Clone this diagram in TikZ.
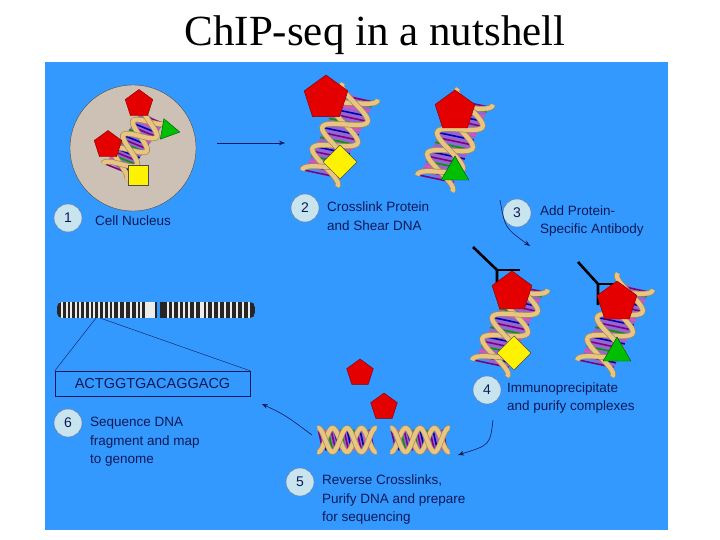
\documentclass[tikz,border=0pt]{standalone}
\usepackage{fontspec}
\setmainfont{Liberation Sans}
\newfontfamily\titlefont{Liberation Serif}
\usetikzlibrary{shapes.geometric,arrows.meta}
\definecolor{panel}{RGB}{51,153,255}
\definecolor{ink}{RGB}{15,25,85}
\definecolor{ribbon}{RGB}{232,198,130}
\definecolor{bubble}{RGB}{200,228,238}
\definecolor{nuc}{RGB}{205,192,180}
\tikzset{
 lbl/.style={font=\fontsize{13.5}{18.5}\selectfont, text=ink, align=left, anchor=west, inner sep=0pt},
 num/.style={circle, fill=bubble, draw=ink!60, minimum size=28pt, inner sep=0pt, font=\fontsize{14}{14}\selectfont, text=ink},
 pent/.style={regular polygon, regular polygon sides=5, fill=red!90!black, draw=red!50!black, inner sep=0pt},
 tri/.style={regular polygon, regular polygon sides=3, fill=green!75!black, draw=green!30!black, inner sep=0pt},
 sq/.style={rectangle, fill=yellow, draw=black!70, inner sep=0pt},
 arr/.style={draw=ink, -{Stealth[length=6pt]}, line width=0.6pt},
 dna/.pic={
  \fill[blue!40!violet!60] (-32,-13) rectangle (32,13);
  \foreach \i/\c in {-33/violet,-29/blue!70!black,-25/magenta!70,-21/green!60!black,-17/violet,-13/blue!70!black,-9/magenta!70,-5/green!60!black,-1/violet,3/blue!70!black,7/magenta!70,11/green!60!black,15/violet,19/blue!70!black,23/magenta!70,27/green!60!black,31/violet}
   {\draw[\c, line width=1.6pt] (\i-3,-13) -- (\i+3,13);}
  \foreach \ph in {90,-90}{
  \draw[ribbon!70!black, line width=5.6pt] plot[domain=-37:37,samples=50] (\x,{15*sin(\x*10+\ph)});
  \draw[ribbon, line width=4.2pt] plot[domain=-37:37,samples=50] (\x,{15*sin(\x*10+\ph)});}
 }
}
\begin{document}
\begin{tikzpicture}[x=1pt,y=-1pt]
\useasboundingbox (0,0) rectangle (720,540);
\fill[white] (0,0) rectangle (720,540);
\node[font=\titlefont\fontsize{43}{43}\selectfont] (title) at (375,35) {ChIP-seq in a nutshell};
\fill[panel] (45,62) rectangle (668,530);

% step 1
\node[circle, fill=nuc, draw=black!70, minimum size=126pt] (nucleus) at (133,148) {};
\pic[scale=0.95, rotate=55] at (135,143) {dna};
\node[pent, minimum size=29pt] (p1a) at (139,104) {};
\node[pent, minimum size=29pt] (p1b) at (108,145) {};
\node[tri, minimum size=24pt, rotate=20] (t1) at (168,130) {};
\node[sq, minimum size=20pt] (s1) at (138,175) {};
\coordinate (a1s) at (217,143);
\coordinate (a1e) at (285,143);
\draw[arr] (a1s) -- (a1e);
\node[num] (n1) at (68,218) {1};
\node[lbl] (l1) at (95,221) {Cell Nucleus};

% step 2
\pic[scale=1.3, rotate=65] at (340,135) {dna};
\pic[scale=1.3, rotate=65] at (455,140) {dna};
\node[pent, minimum size=46pt] (p2a) at (326,98) {};
\node[sq, minimum size=24pt, rotate=45] (s2) at (340,162) {};
\node[pent, minimum size=42pt] (p2b) at (455,111) {};
\node[tri, minimum size=32pt] (t2) at (455,172) {};
\node[num] (n2) at (305,208) {2};
\node[lbl] (l2) at (327,216) {Crosslink Protein\\and Shear DNA};

% step 3
\node[num] (n3) at (517,213) {3};
\node[lbl] (l3) at (540,221) {Add Protein-\\Specific Antibody};
\coordinate (a3s) at (500,200);
\coordinate (a3e) at (530,246);
\draw[arr] (a3s) .. controls (505,228) .. (a3e);
\pic[scale=1.3, rotate=65] at (510,325) {dna};
\pic[scale=1.3, rotate=65] at (615,325) {dna};
\draw[black, line width=2.6pt] (473,247) -- (497,270) -- (497,290);
\draw[black, line width=2.6pt] (497,270) -- (520,270);
\draw[black, line width=2.6pt] (578,262) -- (598,284) -- (598,305);
\draw[black, line width=2.6pt] (598,284) -- (620,284);
\node[pent, minimum size=42pt] (p3a) at (512,292) {};
\node[sq, minimum size=24pt, rotate=45] (s3) at (514,353) {};
\node[pent, minimum size=42pt] (p3b) at (617,302) {};
\node[tri, minimum size=32pt] (t3) at (617,353) {};

% step 4
\node[num] (n4) at (487,390) {4};
\node[lbl] (l4) at (507,398) {Immunoprecipitate\\and purify complexes};
\coordinate (a4s) at (493,420);
\coordinate (a4e) at (458,455);
\draw[arr] (a4s) .. controls (490,445) .. (a4e);

% step 5
\node[pent, minimum size=28pt] (p5a) at (360,373) {};
\node[pent, minimum size=28pt] (p5b) at (384,407) {};
\pic[scale=0.8] at (347,440) {dna};
\pic[scale=0.8] at (420,440) {dna};
\node[num] (n5) at (300,482) {5};
\node[lbl] (l5) at (322,500) {Reverse Crosslinks,\\Purify DNA and prepare\\for sequencing};
\coordinate (a5s) at (312,435);
\coordinate (a5e) at (262,404);
\draw[arr] (a5s) .. controls (285,415) .. (a5e);

% step 6
\node[num] (n6) at (68,423) {6};
\node[lbl] (l6) at (90,442) {Sequence DNA\\fragment and map\\to genome};
\begin{scope}
\clip[rounded corners=5pt] (57,302) rectangle (255,318);
\fill[black!85] (57,302) rectangle (255,318);
\foreach \x in {61,66,70,75,79,84,89,93,98,103,108,112,118,124,130,136,140,167,172,178,183,188,194,200,206,212,218,224,230,236,242,248}
  \fill[white!85!gray] (\x,302) rectangle (\x+2,318);
\fill[white!85!gray] (145,302) rectangle (155,318);
\fill[panel] (157,302) rectangle (160,318);
\fill[white!85!gray] (200,302) rectangle (204,318);
\end{scope}
\node[draw=ink, minimum width=195pt, minimum height=25pt, inner sep=0pt, font=\fontsize{14.5}{14.5}\selectfont, text=ink] (seq) at (152.5,383.5) {ACTGGTGACAGGACG};
\coordinate (c1) at (96,318);
\coordinate (c2) at (100,318);
\draw[ink] (c1) -- (seq.north west);
\draw[ink] (c2) -- (seq.north east);
\end{tikzpicture}
\end{document}
